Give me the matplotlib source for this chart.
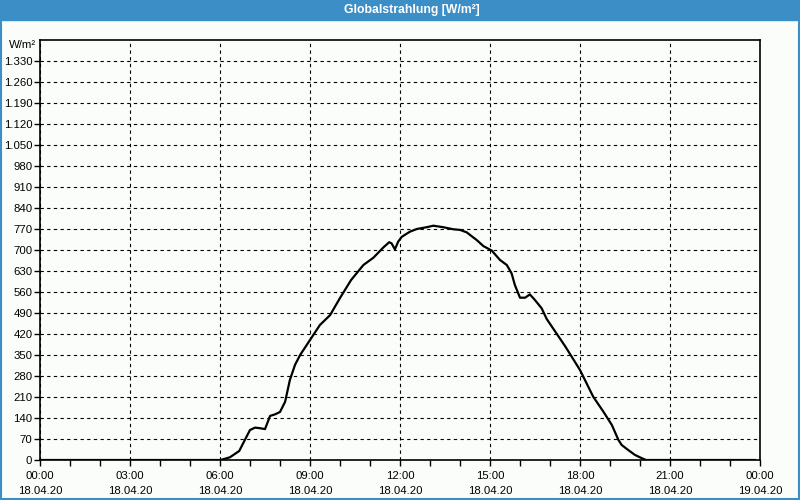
import matplotlib
matplotlib.use("Agg")
import matplotlib.pyplot as plt
from matplotlib.patches import Rectangle

plt.rcParams["font.family"] = ["Liberation Sans", "DejaVu Sans"]

# global radiation 18.04.20, hours since midnight vs W/m²
hours = [0.0, 6.02, 6.33, 6.64, 6.83, 7.0, 7.17, 7.33, 7.5, 7.67, 7.83, 8.0, 8.17, 8.33,
         8.5, 8.67, 9.0, 9.33, 9.67, 10.0, 10.37, 10.78, 11.11, 11.44, 11.64, 11.72,
         11.83, 11.94, 12.06, 12.33, 12.56, 12.89, 13.11, 13.44, 13.78, 14.0, 14.22,
         14.56, 14.78, 15.06, 15.33, 15.56, 15.72, 15.83, 16.0, 16.17, 16.33, 16.5,
         16.72, 16.89, 17.5, 18.0, 18.44, 18.78, 19.06, 19.28, 19.39, 19.61, 19.83,
         20.06, 20.2, 23.83]
watts = [0, 0, 9, 30, 67, 100, 108, 106, 103, 147, 152, 160, 194, 267,
         317, 350, 400, 450, 483, 540, 600, 650, 674, 708, 726, 722,
         702, 728, 744, 761, 770, 776, 781, 776, 769, 767, 759,
         733, 713, 698, 667, 650, 622, 583, 541, 541, 552, 533,
         506, 470, 380, 300, 211, 161, 117, 67, 50, 33, 17,
         6, 0, 0]

yticks = list(range(0, 1331, 70))
xticks = list(range(0, 25, 3))
xlabels = [f"{h % 24:02d}:00\n{'19.04.20' if h == 24 else '18.04.20'}" for h in xticks]
TITLE = "Globalstrahlung [W/m²]"
UNIT = "W/m²"

BLUE = "#3c8fc6"; BG = "#fbfdfb"
FS = 8.2

fig = plt.figure(figsize=(8, 5), dpi=100, facecolor=BG)
# title bar and outer frame
fig.patches.append(Rectangle((0, 0.96), 1, 0.04, transform=fig.transFigure, color=BLUE, zorder=0))
fig.patches.append(Rectangle((0.001, 0.002), 0.9975, 0.996, transform=fig.transFigure,
                             fill=False, edgecolor=BLUE, lw=1.5, zorder=5))
fig.text(0.515, 0.979, TITLE, color="white", fontsize=8.8, fontweight="bold", ha="center", va="center")

ax = fig.add_axes([40 / 800, 40 / 500, 720 / 800, 420 / 500])
ax.set_facecolor(BG)
ax.plot(hours, watts, color="black", lw=1.6, zorder=3)
ax.set_xlim(0, 24)
ax.set_ylim(0, 1400)
ax.set_yticks(yticks)
ax.set_yticklabels([f"{v:,}".replace(",", ".") for v in yticks], fontsize=FS)
ax.set_xticks(xticks)
ax.set_xticklabels(xlabels, fontsize=FS, linespacing=1.6)
ax.set_xticks(range(0, 25), minor=True)
ax.tick_params(axis="both", which="both", direction="out", length=4, width=1, colors="black", pad=1.5)
ax.tick_params(axis="x", which="major", pad=4)
ax.grid(True, which="major", color="black", lw=0.8, ls=(0, (3, 3)))
for s in ax.spines.values():
    s.set_linewidth(1.2)
ax.text(-0.005, 1.0, UNIT, transform=ax.transAxes, ha="right", va="top", fontsize=FS)

fig.savefig("out.png", dpi=100, facecolor=BG)
